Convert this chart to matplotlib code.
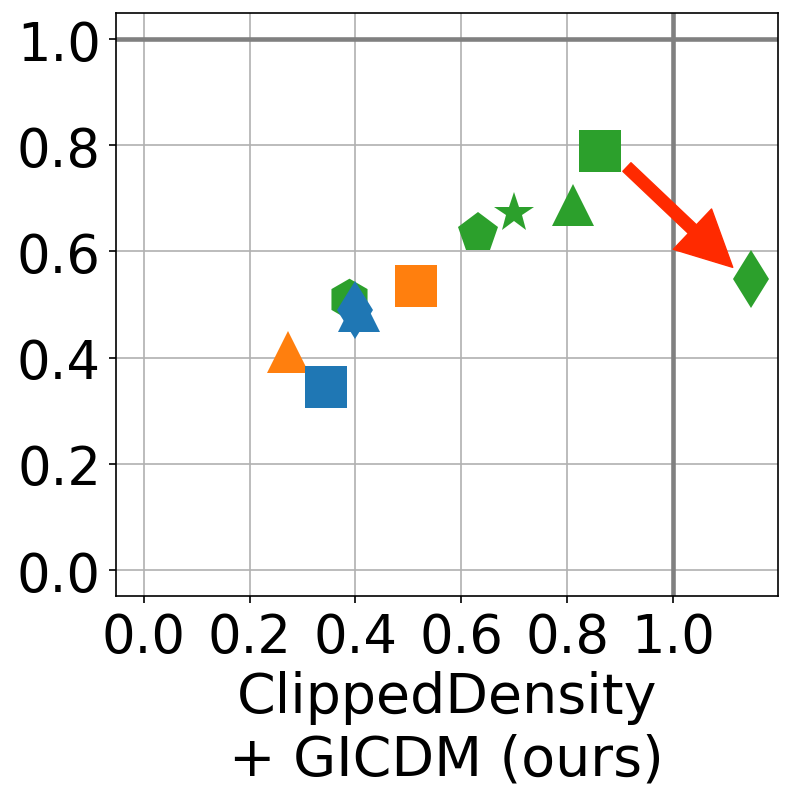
import numpy as np
import matplotlib.pyplot as plt

# point estimates
xs = [0.272, 0.345, 0.514, 0.388, 0.631, 0.699, 0.811, 0.862, 1.147, 0.399, 0.406]
ys = [0.411, 0.344, 0.535, 0.510, 0.635, 0.672, 0.687, 0.789, 0.548, 0.490, 0.488]
colors = ['tab:orange', 'tab:blue', 'tab:orange', 'tab:green', 'tab:green', 'tab:green',
          'tab:green', 'tab:green', 'tab:green', 'tab:blue', 'tab:blue']
markers = ['^', 's', 's', 'h', 'p', '*', '^', 's', 'd', 'd', '^']
draw_order = [3, 4, 5, 6, 7, 8, 0, 2, 1, 9, 10]

arrow_tail = (0.913, 0.759)
arrow_tip = (1.113, 0.570)

ticks = [0.0, 0.2, 0.4, 0.6, 0.8, 1.0]

fig = plt.figure(figsize=(7.92, 8.03), dpi=100)
ax = fig.add_axes([0.146, 0.2565, 0.836, 0.726])

ax.grid(True, color='#b0b0b0', linewidth=1.2, zorder=0)
ax.set_axisbelow(True)
ax.axvline(1.0, color='gray', linewidth=3.3, zorder=1)
ax.axhline(1.0, color='gray', linewidth=3.3, zorder=1)

for i in draw_order:
    ax.plot(xs[i], ys[i], marker=markers[i], color=colors[i], markersize=30,
            markeredgewidth=0, linestyle='none', zorder=3)

ax.annotate('', xy=arrow_tip, xytext=arrow_tail,
            arrowprops=dict(facecolor='#ff2a00', edgecolor='#ff2a00', width=8.5,
                            headwidth=40, headlength=40, shrink=0),
            zorder=4)

ax.set_xlim(-0.053, 1.198)
ax.set_ylim(-0.049, 1.049)
ax.set_xticks(ticks)
ax.set_yticks(ticks)
ax.tick_params(labelsize=38, length=5.3, width=1.2, pad=5.3)
for s in ax.spines.values():
    s.set_linewidth(1.2)
ax.set_xlabel('ClippedDensity\n+ GICDM (ours)', fontsize=40, labelpad=5)

fig.savefig('out.png', dpi=100)
